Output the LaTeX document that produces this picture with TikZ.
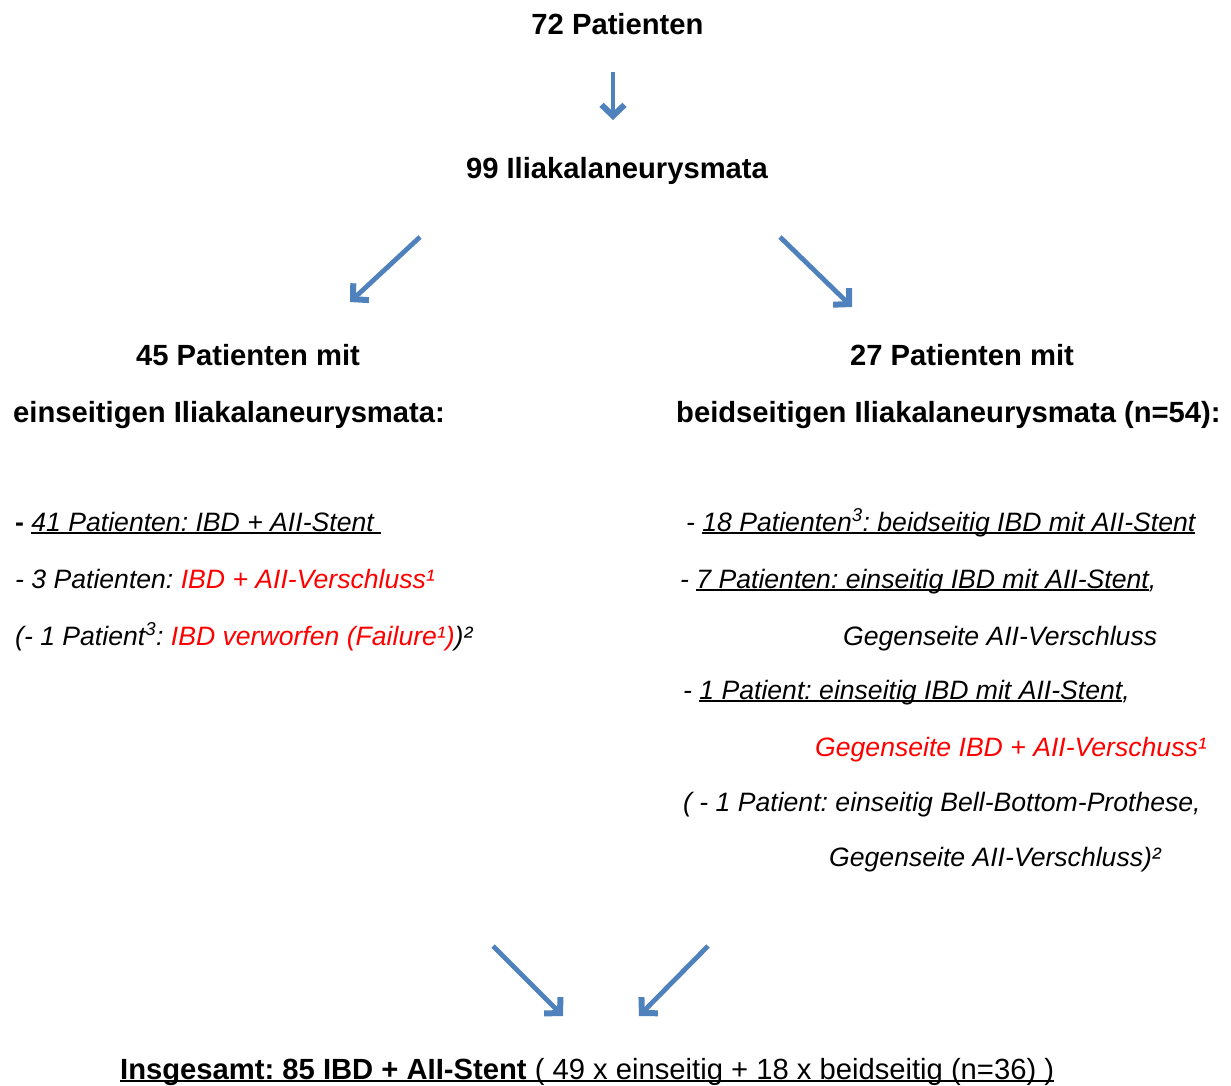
\documentclass[tikz,border=0pt]{standalone}
\usepackage{fontspec}
\setmainfont{Liberation Sans}
\usetikzlibrary{arrows.meta}
\definecolor{arrowblue}{RGB}{79,129,189}
\definecolor{txtred}{RGB}{255,0,0}
\newcommand{\bigb}{\fontsize{29.2}{35}\selectfont\bfseries\frenchspacing}
\newcommand{\bodyi}{\fontsize{26.6}{32}\selectfont\itshape\frenchspacing}
\newcommand{\bodyr}{\fontsize{29.2}{35}\selectfont\frenchspacing}
% underline at a fixed depth below the baseline
\newcommand{\myul}[1]{\leavevmode\setbox0\hbox{#1}\rlap{\rule[-3.2pt]{\wd0}{1.8pt}}\box0}
\tikzset{
  flow/.style={draw=arrowblue, line width=4.8pt,
    -{Straight Barb[length=11pt,width=23pt,line width=6pt]}},
  head/.style={inner sep=0pt, anchor=base, font=\bigb},
  headw/.style={inner sep=0pt, anchor=base west, font=\bigb},
  item/.style={inner sep=0pt, anchor=base west, font=\bodyi},
}
\begin{document}
\begin{tikzpicture}[x=1pt,y=-1pt]
\useasboundingbox (0,0) rectangle (1231,1086);
% headings
\node[head] (n72) at (617.5,35) {72 Patienten};
\node[head] (n99) at (617,179) {99 Iliakalaneurysmata};
\node[head] (l45) at (248,365) {45 Patienten mit};
\node[headw] (l45b) at (13,422) {einseitigen Iliakalaneurysmata:};
\node[head] (r27) at (962,365) {27 Patienten mit};
\node[headw] (r27b) at (676,422) {beidseitigen Iliakalaneurysmata (n=54):};
% left list
\node[item] (la) at (15,531) {\textbf{\upshape-} \myul{41 Patienten: IBD + AII-Stent\ }};
\node[item] (lb) at (15,588) {- 3 Patienten: \textcolor{txtred}{IBD + AII-Verschluss¹}};
\node[item] (lc) at (15,645) {(- 1 Patient\textsuperscript{3}: \textcolor{txtred}{IBD verworfen (Failure¹)})²};
% right list
\node[item] (ra) at (686,531) {- \myul{18 Patienten\textsuperscript{3}: beidseitig IBD mit AII-Stent}};
\node[item] (rb) at (680,588) {- \myul{7 Patienten: einseitig IBD mit AII-Stent},};
\node[item] (rc) at (843,645) {Gegenseite AII-Verschluss};
\node[item] (rd) at (683,699) {- \myul{1 Patient: einseitig IBD mit AII-Stent},};
\node[item, text=txtred] (re) at (815,756) {Gegenseite IBD + AII-Verschuss¹};
\node[item] (rf) at (683,811) {( - 1 Patient: einseitig Bell-Bottom-Prothese,};
\node[item] (rg) at (829,866) {Gegenseite AII-Verschluss)²};
% bottom
\node[inner sep=0pt, anchor=base west, font=\bodyr] (tot) at (120,1079)
  {\myul{\textbf{Insgesamt: 85 IBD + AII-Stent} ( 49 x einseitig + 18 x beidseitig (n=36) )}};
% arrow end points
\coordinate (a1s) at (613,72);  \coordinate (a1e) at (613,120);
\coordinate (a2s) at (420,237); \coordinate (a2e) at (350,302);
\coordinate (a3s) at (780,237); \coordinate (a3e) at (852,307);
\coordinate (a4s) at (493,946); \coordinate (a4e) at (563,1016);
\coordinate (a5s) at (708,946); \coordinate (a5e) at (639,1016);
\draw[flow] (a1s) -- (a1e);
\draw[flow] (a2s) -- (a2e);
\draw[flow] (a3s) -- (a3e);
\draw[flow] (a4s) -- (a4e);
\draw[flow] (a5s) -- (a5e);
\end{tikzpicture}
\end{document}
